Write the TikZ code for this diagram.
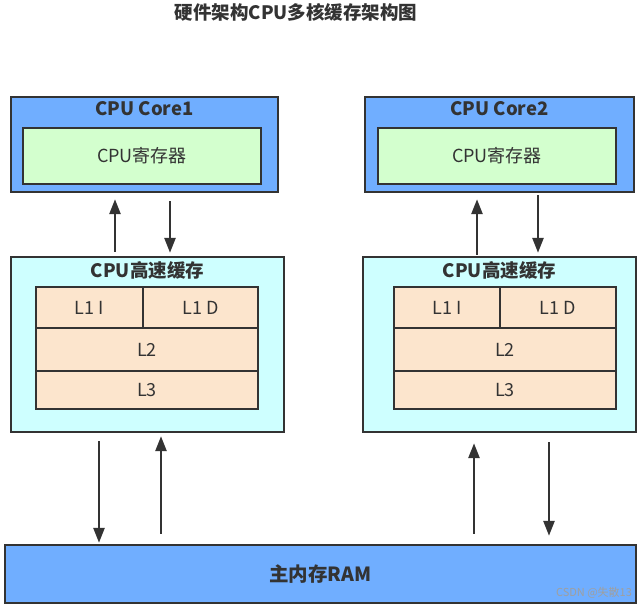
\documentclass[tikz,border=0pt]{standalone}
\usepackage{fontspec}
\setmainfont{Noto Sans CJK SC}
\usetikzlibrary{arrows.meta}

\definecolor{coreblue}{RGB}{112,174,255}
\definecolor{reggreen}{RGB}{211,255,206}
\definecolor{cachecyan}{RGB}{206,255,255}
\definecolor{levelpeach}{RGB}{252,229,205}
\definecolor{ink}{RGB}{51,51,51}

\tikzset{
  box/.style={draw=ink, line width=2.4pt, inner sep=0pt, text=ink},
  boxtitle/.style={text=ink, font=\fontsize{18.5}{22}\selectfont\bfseries},
  boxtext/.style={text=ink, font=\fontsize{18}{21}\selectfont},
  flow/.style={draw=ink, line width=2.6pt, -{Triangle[length=15pt,width=11pt]}},
}

\begin{document}
\begin{tikzpicture}[x=1pt,y=-1pt]
  \useasboundingbox (0,0) rectangle (642,606);

  % Title
  \node[boxtitle] (title) at (296,12) {硬件架构CPU多核缓存架构图};

  % CPU cores with their registers
  \node[box, fill=coreblue, minimum width=267pt, minimum height=95pt] (core1) at (144.5,144.5) {};
  \node[boxtitle] (core1lbl) at (144.5,109) {CPU Core1};
  \node[box, fill=reggreen, minimum width=238pt, minimum height=56pt, boxtext] (reg1) at (142,156) {CPU寄存器};

  \node[box, fill=coreblue, minimum width=269pt, minimum height=95pt] (core2) at (499.5,144.5) {};
  \node[boxtitle] (core2lbl) at (499.5,109) {CPU Core2};
  \node[box, fill=reggreen, minimum width=238pt, minimum height=56pt, boxtext] (reg2) at (497,156) {CPU寄存器};

  % Caches
  \node[box, fill=cachecyan, minimum width=273pt, minimum height=175pt] (cache1) at (147.5,344.5) {};
  \node[boxtitle] (cache1lbl) at (147.5,270) {CPU高速缓存};
  \node[box, fill=levelpeach, minimum width=107pt, minimum height=41pt, boxtext] (l1i1) at (89.5,307.5) {L1 I};
  \node[box, fill=levelpeach, minimum width=115pt, minimum height=41pt, boxtext] (l1d1) at (200.5,307.5) {L1 D};
  \node[box, fill=levelpeach, minimum width=222pt, minimum height=43pt, boxtext] (l2a) at (147,349.5) {L2};
  \node[box, fill=levelpeach, minimum width=222pt, minimum height=38pt, boxtext] (l3a) at (147,390) {L3};

  \node[box, fill=cachecyan, minimum width=273pt, minimum height=175pt] (cache2) at (499.5,344.5) {};
  \node[boxtitle] (cache2lbl) at (499.5,270) {CPU高速缓存};
  \node[box, fill=levelpeach, minimum width=106pt, minimum height=41pt, boxtext] (l1i2) at (447,307.5) {L1 I};
  \node[box, fill=levelpeach, minimum width=116pt, minimum height=41pt, boxtext] (l1d2) at (558,307.5) {L1 D};
  \node[box, fill=levelpeach, minimum width=222pt, minimum height=43pt, boxtext] (l2b) at (505,349.5) {L2};
  \node[box, fill=levelpeach, minimum width=222pt, minimum height=38pt, boxtext] (l3b) at (505,390) {L3};

  % Main memory
  \node[box, fill=coreblue, minimum width=631pt, minimum height=58pt, boxtitle, font=\fontsize{19.5}{23}\selectfont\bfseries] (ram) at (320.5,574) {主内存RAM};
  \node[text=gray!75, font=\fontsize{11}{13}\selectfont] (mark) at (594,593) {CSDN @失散13};

  % Core <-> cache
  \draw[flow, shorten <=4pt, shorten >=6pt] (cache1.north -| 115,0) -- (core1.south -| 115,0);
  \draw[flow, shorten <=8pt, shorten >=3pt] (core1.south -| 170,0) -- (cache1.north -| 170,0);
  \draw[flow, shorten <=1pt, shorten >=6pt] (cache2.north -| 477,0) -- (core2.south -| 477,0);
  \draw[flow, shorten <=2pt, shorten >=3pt] (core2.south -| 538,0) -- (cache2.north -| 538,0);

  % Cache <-> main memory
  \draw[flow, shorten <=8pt, shorten >=1pt] (cache1.south -| 99,0) -- (ram.north -| 99,0);
  \draw[flow, shorten <=10pt, shorten >=3pt] (ram.north -| 161,0) -- (cache1.south -| 161,0);
  \draw[flow, shorten <=10pt, shorten >=10pt] (ram.north -| 474,0) -- (cache2.south -| 474,0);
  \draw[flow, shorten <=9pt, shorten >=8pt] (cache2.south -| 549,0) -- (ram.north -| 549,0);
\end{tikzpicture}
\end{document}
